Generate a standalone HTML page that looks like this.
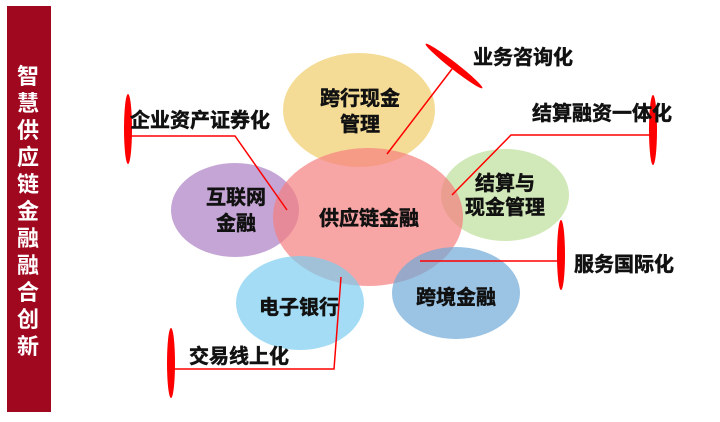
<!DOCTYPE html>
<html><head><meta charset="utf-8"><style>
html,body{margin:0;padding:0;background:#fff;}
svg{display:block;}
text{font-family:"Liberation Sans","Noto Sans CJK SC",sans-serif;font-weight:bold;fill:#111;}
.d text{stroke:#111;stroke-width:0.5;}
</style></head><body>
<svg width="720" height="422" viewBox="0 0 720 422" xmlns="http://www.w3.org/2000/svg">
<rect x="7" y="6" width="44" height="406" fill="#a0081f"/>
<g font-size="22" text-anchor="middle">
<text x="28" y="84" style="fill:#fff">智</text>
<text x="28" y="111" style="fill:#fff">慧</text>
<text x="28" y="138" style="fill:#fff">供</text>
<text x="28" y="165" style="fill:#fff">应</text>
<text x="28" y="192" style="fill:#fff">链</text>
<text x="28" y="219" style="fill:#fff">金</text>
<text x="28" y="246" style="fill:#fff">融</text>
<text x="28" y="273" style="fill:#fff">融</text>
<text x="28" y="300" style="fill:#fff">合</text>
<text x="28" y="327" style="fill:#fff">创</text>
<text x="28" y="354" style="fill:#fff">新</text>
</g>
<ellipse cx="359" cy="110" rx="76" ry="57" fill="#f0cd6a" fill-opacity="0.7"/>
<ellipse cx="235" cy="210" rx="64" ry="47" fill="#b58fcb" fill-opacity="0.8"/>
<ellipse cx="505" cy="195" rx="64" ry="46" fill="#c6e2a6" fill-opacity="0.8"/>
<ellipse cx="368" cy="217" rx="95" ry="69" fill="#f57f7f" fill-opacity="0.7"/>
<ellipse cx="300" cy="303" rx="64" ry="47" fill="#7ccdf0" fill-opacity="0.7"/>
<ellipse cx="456" cy="293" rx="64" ry="46" fill="#6fa9d8" fill-opacity="0.7"/>
<g stroke="#f00" stroke-width="1.5" fill="none">
<polyline points="387,154 452,69"/>
<polyline points="452,195 511,135 650,135"/>
<polyline points="131,136 235,136 287,210"/>
<polyline points="420,261 558,261"/>
<polyline points="174,369 334,369 341,277"/>
</g>
<g fill="#f00">
<ellipse cx="454" cy="66" rx="36" ry="3.5" transform="rotate(38 454 66)"/>
<ellipse cx="653" cy="130" rx="4" ry="35"/>
<ellipse cx="128" cy="129" rx="4" ry="35"/>
<ellipse cx="561" cy="255" rx="4" ry="35"/>
<ellipse cx="171" cy="363" rx="4" ry="35"/>
</g>
<g class="d" font-size="20" text-anchor="middle">
<text x="360" y="105">跨行现金</text>
<text x="360" y="131">管理</text>
<text x="369" y="225">供应链金融</text>
<text x="236" y="204">互联网</text>
<text x="236" y="230">金融</text>
<text x="299" y="314">电子银行</text>
<text x="505" y="190">结算与</text>
<text x="505" y="214">现金管理</text>
<text x="456" y="304">跨境金融</text>
</g>
<g class="d" font-size="20">
<text x="473" y="64">业务咨询化</text>
<text x="532" y="120">结算融资一体化</text>
<text x="130" y="127">企业资产证券化</text>
<text x="574" y="271">服务国际化</text>
<text x="189" y="363">交易线上化</text>
</g>
</svg>
</body></html>
